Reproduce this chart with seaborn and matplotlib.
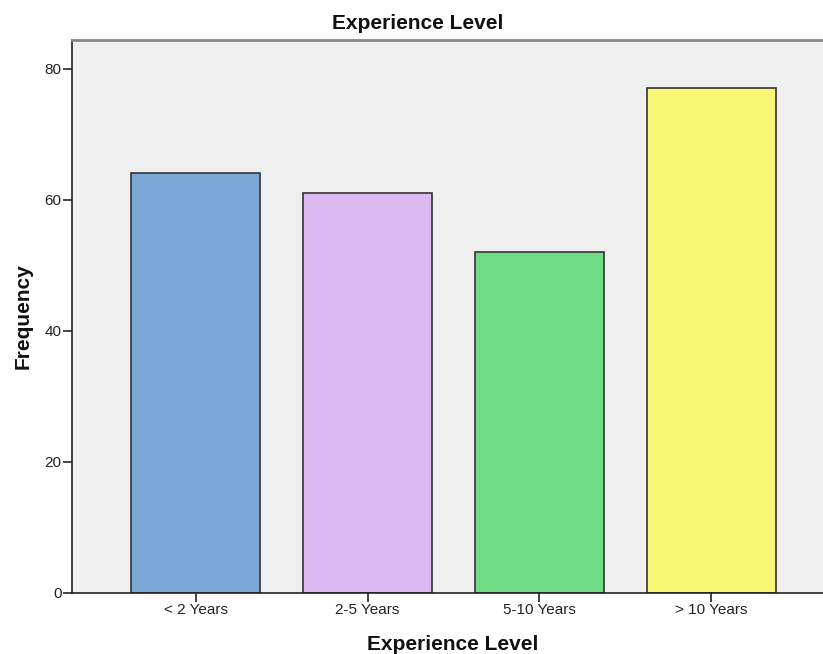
import matplotlib
matplotlib.use("Agg")
import matplotlib.pyplot as plt
import seaborn as sns
import pandas as pd

categories = ["< 2 Years", "2-5 Years", "5-10 Years", "> 10 Years"]
frequencies = [64, 61, 52, 77]
bar_colors = ["#7BA8D6", "#DDB9F2", "#70DD86", "#F9F575"]

sns.set_style("white")
plt.rcParams["font.family"] = ["Liberation Sans", "DejaVu Sans"]

df = pd.DataFrame({"Experience Level": categories, "Frequency": frequencies})

W, H = 823, 654
fig = plt.figure(figsize=(W / 100, H / 100), dpi=100)
ax = fig.add_axes([72 / W, 61 / H, 751 / W, 553 / H])
ax.set_facecolor("#EFEFEF")

sns.barplot(data=df, x="Experience Level", y="Frequency", hue="Experience Level",
            palette=bar_colors, legend=False, width=0.75, saturation=1,
            edgecolor="#333333", linewidth=1.2, ax=ax)

ax.set_xlim(-0.72, 3.65)
ax.set_ylim(0, 84.35)
ax.set_yticks([0, 20, 40, 60, 80])

ax.spines["right"].set_visible(False)
ax.spines["top"].set_color("#888888")
ax.spines["top"].set_linewidth(2)
for side in ("left", "bottom"):
    ax.spines[side].set_color("#222222")
    ax.spines[side].set_linewidth(1.2)

ax.tick_params(axis="both", which="both", direction="out", length=6.5, width=1.2,
               color="#222222", labelsize=11, labelcolor="#222222", pad=1,
               left=True, bottom=True)

ax.set_xlabel("")
ax.set_ylabel("")

label_kw = dict(fontsize=15, fontweight="bold", color="#111111")
fig.text(418 / W, 1 - 29 / H, "Experience Level", ha="center", va="baseline", **label_kw)
fig.text(453 / W, 1 - 650 / H, "Experience Level", ha="center", va="baseline", **label_kw)
fig.text(23 / W, 1 - 316 / H, "Frequency", ha="center", va="center",
         rotation=90, **label_kw)

fig.savefig("out.png", dpi=100)
